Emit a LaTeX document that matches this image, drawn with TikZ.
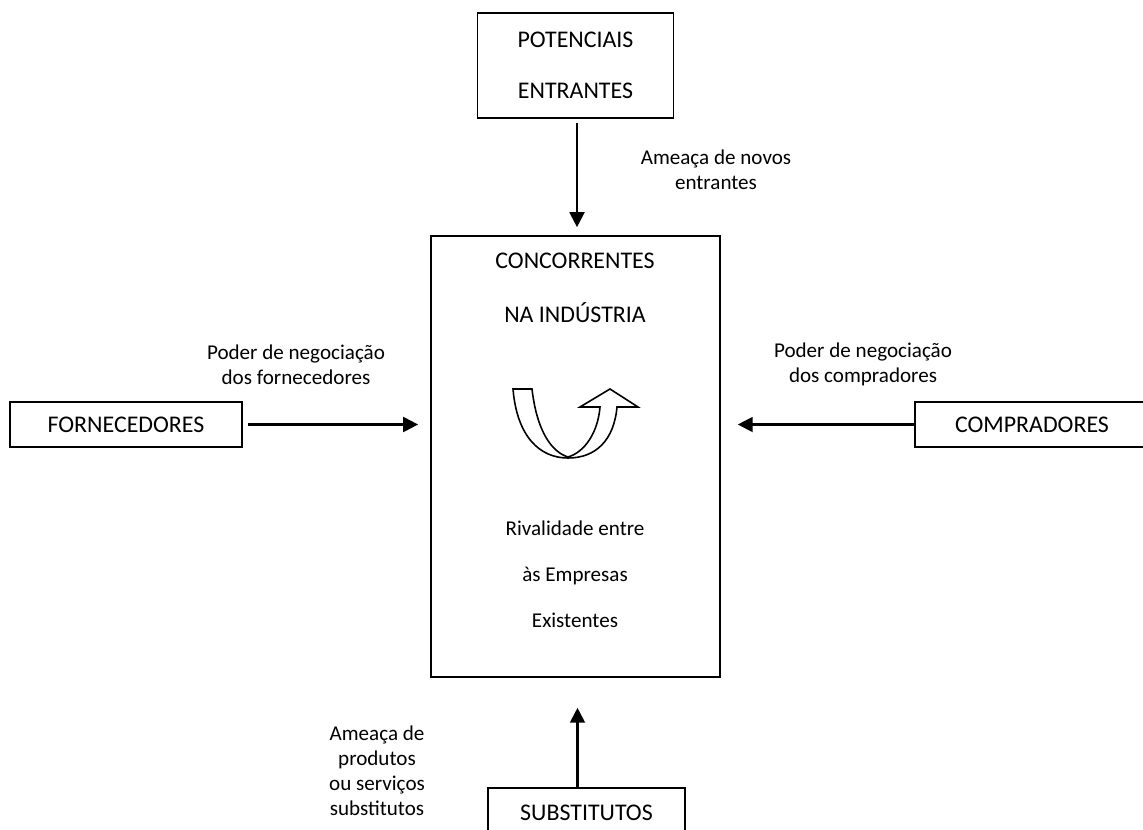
\documentclass[tikz,border=0pt]{standalone}
\usepackage{fontspec}
\setmainfont{Carlito}
\usetikzlibrary{arrows.meta,positioning}

\begin{document}
\begin{tikzpicture}[
    x=0.02cm, y=-0.02cm,
    every node/.style={font=\fontsize{12}{14.3}\selectfont},
    block/.style={draw, line width=1.1pt, align=center, inner sep=0pt, font=\fontsize{13.6}{16.3}\selectfont},
    caps/.style={align=center, inner sep=0pt, font=\fontsize{13.6}{16.3}\selectfont},
    lbl/.style={align=center, inner sep=0pt},
    line/.style={-{Triangle[length=8.5pt,width=8.5pt]}, line width=1.2pt}
  ]
    \useasboundingbox (0,0) rectangle (1143,829);

    % boxes
    \node[block, minimum width=3.92cm, minimum height=2.1cm] (ent) at (575.5,65.5) {POTENCIAIS\\[12.6pt]ENTRANTES};
    \node[block, minimum width=5.78cm, minimum height=8.82cm] (ind) at (575.5,456.5) {};
    \node[block, minimum width=4.64cm, minimum height=0.9cm] (forn) at (126,424.5) {FORNECEDORES};
    \node[block, minimum width=4.68cm, minimum height=0.9cm] (comp) at (1032,424.5) {COMPRADORES};
    \node[block, minimum width=3.94cm, minimum height=1cm] (subs) at (586.5,813) {SUBSTITUTOS};

    % texts inside the industry box
    \node[caps] (conc) at (575,288) {CONCORRENTES\\[14.3pt]NA INDÚSTRIA};
    \node[lbl] (riv) at (575,574) {Rivalidade entre\\[11.8pt]às Empresas\\[11.8pt]Existentes};

    % forces
    \node[lbl] (tnov) at (716,169.5) {Ameaça de novos\\entrantes};
    \node[lbl] (tfor) at (296,364.5) {Poder de negociação\\dos fornecedores};
    \node[lbl] (tcom) at (863,364.5) {Poder de negociação\\dos compradores};
    \node[lbl] (tsub) at (377,771) {Ameaça de\\produtos\\ou serviços\\substitutos};

    \draw[line, shorten <=2.3pt, shorten >=4.5pt] ([xshift=1.5*0.02cm]ent.south) -- ([xshift=1.5*0.02cm]ent.south |- ind.north);
    \draw[line, shorten <=2.8pt, shorten >=6.8pt] (forn.east) -- (forn.east -| ind.west);
    \draw[line, shorten >=9.6pt] (comp.west) -- (comp.west -| ind.east);
    \draw[line, shorten >=17pt] ([xshift=-9*0.02cm]subs.north) -- ([xshift=-9*0.02cm]subs.north |- ind.south);

    % rivalry turn
    \draw[line width=0.9pt, fill=white, line join=miter]
      (513,389) -- (532,389) .. controls (537,432) and (552,452) .. (568,457)
      .. controls (585,452) and (598,432) .. (600,407) -- (580,407) -- (610,389)
      -- (638,407) -- (617,407) .. controls (614,440) and (596,458) .. (568,458)
      .. controls (540,458) and (517,437) .. (513,389) -- cycle;
  \end{tikzpicture}
\end{document}
